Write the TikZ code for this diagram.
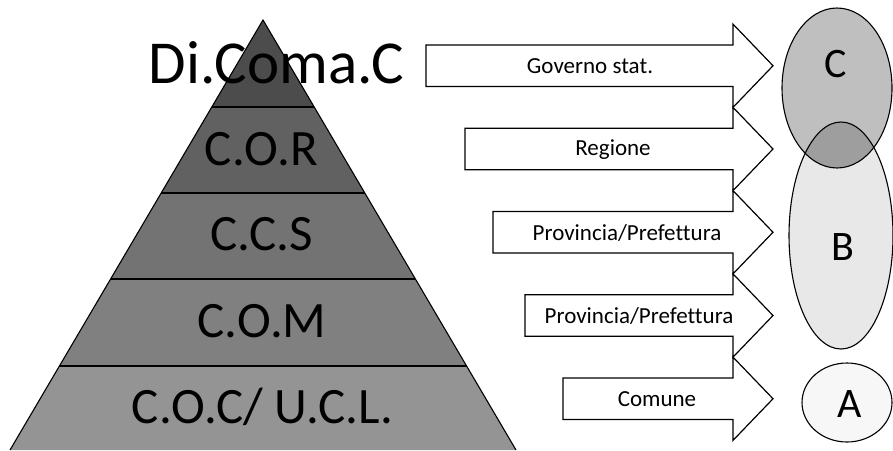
\documentclass[tikz,border=0pt]{standalone}
\usepackage{fontspec}
\setmainfont{Carlito}[Ligatures=NoCommon]
\begin{document}
\begin{tikzpicture}[x=1pt,y=-1pt,
  layline/.style={draw=black,line width=1.1pt},
  big/.style={font=\fontsize{51}{60}\selectfont,anchor=base,inner sep=0pt},
  lbl/.style={font=\fontsize{23}{28}\selectfont,inner sep=0pt},
  blockarrow/.style={draw=black,line width=1.2pt,fill=white,line join=miter},
  circ/.style={draw=black,line width=1.1pt},
  letter/.style={font=\fontsize{42}{50}\selectfont,anchor=base,inner sep=0pt}]
\useasboundingbox (0,0) rectangle (893,450);
\definecolor{lA}{gray}{0.30}
\definecolor{lB}{gray}{0.38}
\definecolor{lC}{gray}{0.45}
\definecolor{lD}{gray}{0.50}
\definecolor{lE}{gray}{0.58}
\definecolor{eC}{gray}{0.75}
\definecolor{eB}{gray}{0.91}
\definecolor{eA}{gray}{0.97}
\definecolor{eCB}{gray}{0.62}
% pyramid layers
\fill[lA] (263,20) -- (314.2,107) -- (211.8,107) -- cycle;
\fill[lB] (211.8,107) -- (314.2,107) -- (364.8,193) -- (161.2,193) -- cycle;
\fill[lC] (161.2,193) -- (364.8,193) -- (415.4,279) -- (110.6,279) -- cycle;
\fill[lD] (110.6,279) -- (415.4,279) -- (466.6,366) -- (59.4,366) -- cycle;
\fill[lE] (59.4,366) -- (466.6,366) -- (516,450) -- (10,450) -- cycle;
\draw[layline] (211.8,107) -- (314.2,107);
\draw[layline] (161.2,193) -- (364.8,193);
\draw[layline] (110.6,279) -- (415.4,279);
\draw[layline] (59.4,366) -- (466.6,366);
\draw[layline,line join=miter] (10,450) -- (263,20) -- (516,450);
% pyramid labels
\node[big,font=\fontsize{61}{70}\selectfont] (dicoma) at (276.5,83) {Di.Coma.C};
\node[big] (cor) at (261.5,165) {C.O.R};
\node[big] (ccs) at (262,250) {C.C.S};
\node[big] (com) at (262,337) {C.O.M};
\node[big] (coc) at (262.5,423) {C.O.C/ U.C.L.};
% block arrows
\foreach \L/\T in {426/45,465/128.25,493/211.5,525/294.75,563/378}{
  \draw[blockarrow] (\L,\T) -- (733,\T) -- (733,\T-20.875) -- (773,\T+20.75)
     -- (733,\T+62.375) -- (733,\T+41.5) -- (\L,\T+41.5) -- cycle;
}
\node[lbl] (gov) at (590,66) {Governo stat.};
\node[lbl] (reg) at (613,149.25) {Regione};
\node[lbl] (prov1) at (627,232.5) {Provincia/Prefettura};
\node[lbl] (prov2) at (639,315.75) {Provincia/Prefettura};
\node[lbl] (comu) at (657,399) {Comune};
% ellipses
\fill[eC] (837,88) ellipse [x radius=55, y radius=80];
\fill[eB] (841,235.5) ellipse [x radius=52, y radius=113.5];
\begin{scope}
  \clip (837,88) ellipse [x radius=55, y radius=80];
  \fill[eCB] (841,235.5) ellipse [x radius=52, y radius=113.5];
\end{scope}
\draw[circ] (837,88) ellipse [x radius=55, y radius=80];
\draw[circ] (841,235.5) ellipse [x radius=52, y radius=113.5];
\draw[circ,fill=eA] (847,402.5) ellipse [x radius=45, y radius=39.5];
\node[letter] (letC) at (836,77) {C};
\node[letter] (letB) at (843,260) {B};
\node[letter] (letA) at (849.5,417) {A};
\end{tikzpicture}
\end{document}
